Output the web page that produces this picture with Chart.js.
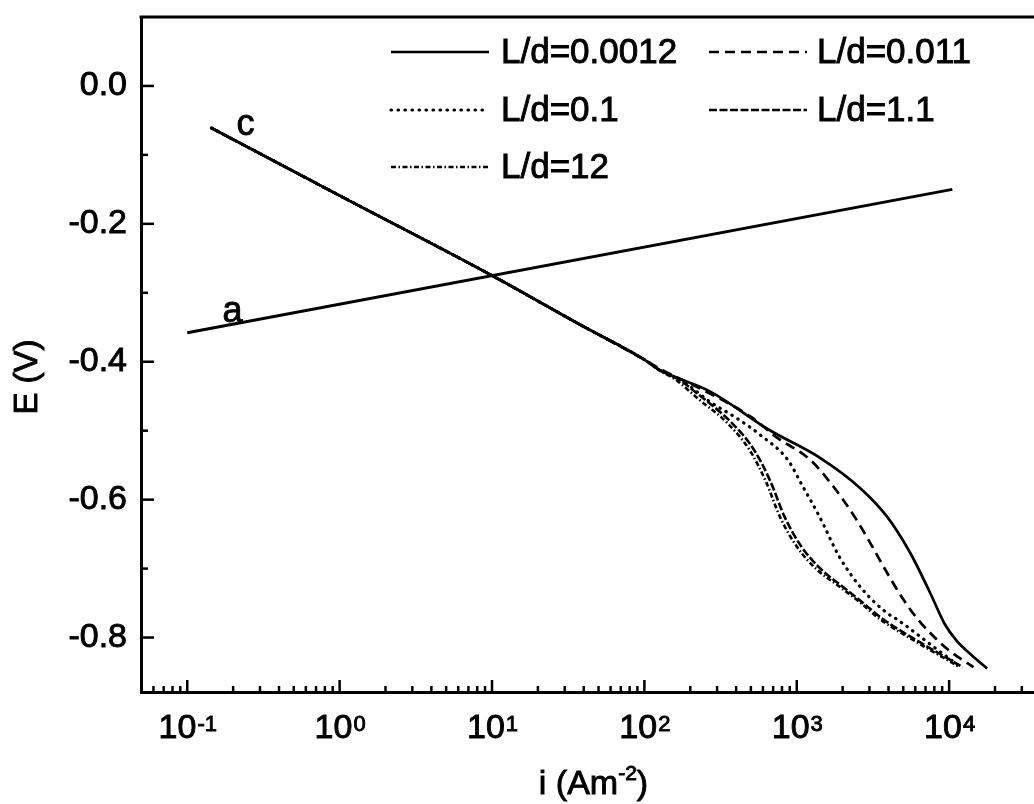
<!DOCTYPE html>
<html>
<head>
<meta charset="utf-8">
<script src="https://cdn.jsdelivr.net/npm/chart.js@4.4.1/dist/chart.umd.min.js"></script>
<style>
  html, body { margin: 0; padding: 0; background: #fff; overflow: hidden; }
  #wrap { width: 1034px; height: 804px; position: relative; }
</style>
</head>
<body>
<div id="wrap"><canvas id="chart"></canvas></div>
<script>
// cathodic branch c, shared by every L/d curve before they split
const commonI = [0.144, 1, 10, 37.7, 100];
const commonE = [-0.061, -0.159, -0.275, -0.346, -0.397];

// tails of the cathodic curves (current in A/m2, potential in V)
const iLd0012 = [126, 269, 661, 1413, 2600, 3890, 5546, 7499, 9333, 11220, 14130, 17780];
const eLd0012 = [-0.412, -0.443, -0.499, -0.539, -0.583, -0.624, -0.677, -0.735, -0.780, -0.805, -0.826, -0.845];

const iLd011 = [126, 269, 501, 741, 1222, 1738, 2399, 3020, 3890, 5012, 6310, 9772, 14450];
const eLd011 = [-0.410, -0.446, -0.480, -0.510, -0.542, -0.581, -0.625, -0.662, -0.705, -0.745, -0.775, -0.817, -0.843];

const iLd01 = [126, 178, 269, 398, 575, 871, 1096, 1413, 1905, 2692, 3890, 4571, 7852, 11750];
const eLd01 = [-0.412, -0.428, -0.458, -0.481, -0.506, -0.542, -0.581, -0.625, -0.683, -0.730, -0.764, -0.774, -0.813, -0.842];

const iLd11 = [126, 166, 240, 372, 525, 676, 832, 1072, 1445, 1995, 2692, 3715, 6457, 12300];
const eLd11 = [-0.412, -0.425, -0.452, -0.488, -0.528, -0.575, -0.625, -0.668, -0.701, -0.726, -0.749, -0.774, -0.807, -0.843];

const iLd12 = [126, 158, 229, 347, 490, 631, 776, 1000, 1349, 1905, 2600, 3548, 6166, 11750];
const eLd12 = [-0.413, -0.425, -0.455, -0.488, -0.528, -0.575, -0.625, -0.668, -0.701, -0.726, -0.749, -0.774, -0.807, -0.843];

// anodic branch a
const anodicI = [0.1, 10500];
const anodicE = [-0.358, -0.150];

const seriesLabels = ['L/d=0.0012', 'L/d=0.011', 'L/d=0.1', 'L/d=1.1', 'L/d=12'];

const xMajorTicks = [0.1, 1, 10, 100, 1000, 10000];
const xTickExponents = ['-1', '0', '1', '2', '3', '4'];
const xMinorTicks = [0.05, 0.06, 0.07, 0.08, 0.09];
[0.1, 1, 10, 100, 1000].forEach(d => { for (let m = 2; m <= 9; m++) xMinorTicks.push(m * d); });
xMinorTicks.push(20000, 30000);

const yMajorTicks = [0, -0.2, -0.4, -0.6, -0.8];
const yMinorTicks = [-0.1, -0.3, -0.5, -0.7];

const FONT = '"Liberation Sans", Arial, Helvetica, sans-serif';

function toPoints(iArr, eArr) {
  return iArr.map((v, k) => ({ x: v, y: eArr[k] }));
}

function cathodic(label, iTail, eTail, dash, width, cap) {
  return {
    label,
    data: toPoints(commonI, commonE).concat(toPoints(iTail, eTail)),
    borderColor: '#000',
    borderWidth: width,
    borderDash: dash,
    borderCapStyle: cap || 'butt',
    cubicInterpolationMode: 'monotone',
    pointRadius: 0,
    fill: false
  };
}

const datasets = [
  cathodic(seriesLabels[4], iLd12, eLd12, [5, 2.5, 1.5, 2.5], 2.6),
  cathodic(seriesLabels[3], iLd11, eLd11, [8, 2.5], 2.6),
  cathodic(seriesLabels[2], iLd01, eLd01, [0.5, 6.5], 3.2, 'round'),
  cathodic(seriesLabels[1], iLd011, eLd011, [10, 6], 2.7),
  cathodic(seriesLabels[0], iLd0012, eLd0012, [], 2.7),
  {
    label: 'a',
    data: toPoints(anodicI, anodicE),
    borderColor: '#000',
    borderWidth: 3,
    pointRadius: 0,
    fill: false
  }
];

// legend slots: [line start x, line y, text x]
const legendSlots = [[391, 52, 501], [709, 52, 817], [391, 110, 501], [709, 110, 817], [391, 167, 501]];

function heavyText(ctx, text, px, py) {
  ctx.fillText(text, px, py);
  ctx.strokeText(text, px, py);
}

const decorations = {
  id: 'decorations',
  afterDraw(chart) {
    const { ctx, chartArea: area, scales: { x, y } } = chart;
    ctx.save();
    ctx.strokeStyle = '#000';
    ctx.fillStyle = '#000';

    // top frame line
    ctx.lineWidth = 3;
    ctx.beginPath();
    ctx.moveTo(area.left - 1.5, area.top);
    ctx.lineTo(area.right, area.top);
    ctx.stroke();

    // inward ticks
    ctx.lineWidth = 2.5;
    x.ticks.forEach(t => {
      const px = x.getPixelForValue(t.value);
      const len = xMajorTicks.includes(t.value) ? 12 : 6;
      ctx.beginPath();
      ctx.moveTo(px, area.bottom);
      ctx.lineTo(px, area.bottom - len);
      ctx.stroke();
    });
    y.ticks.forEach(t => {
      const py = y.getPixelForValue(t.value);
      const len = yMajorTicks.includes(t.value) ? 13 : 7;
      ctx.beginPath();
      ctx.moveTo(area.left, py);
      ctx.lineTo(area.left + len, py);
      ctx.stroke();
    });

    ctx.lineWidth = 0.9;

    // x tick labels with superscript exponents
    ctx.textBaseline = 'alphabetic';
    ctx.textAlign = 'left';
    xMajorTicks.forEach((v, k) => {
      const px = x.getPixelForValue(v);
      ctx.font = `34px ${FONT}`;
      const wBase = ctx.measureText('10').width;
      ctx.font = `22px ${FONT}`;
      const wExp = ctx.measureText(xTickExponents[k]).width;
      const start = px - (wBase + wExp) / 2;
      ctx.font = `34px ${FONT}`;
      heavyText(ctx, '10', start, 738);
      ctx.font = `22px ${FONT}`;
      heavyText(ctx, xTickExponents[k], start + wBase + 1, 731);
    });

    // x axis title: i (Am-2)
    ctx.font = `34px ${FONT}`;
    const t1 = 'i (Am', t3 = ')';
    const w1 = ctx.measureText(t1).width, w3 = ctx.measureText(t3).width;
    ctx.font = `21px ${FONT}`;
    const w2 = ctx.measureText('-2').width;
    const sx = (area.left + area.right) / 2 + 6 - (w1 + w2 + w3) / 2;
    ctx.font = `34px ${FONT}`;
    heavyText(ctx, t1, sx, 794);
    ctx.font = `21px ${FONT}`;
    heavyText(ctx, '-2', sx + w1, 780);
    ctx.font = `34px ${FONT}`;
    heavyText(ctx, t3, sx + w1 + w2, 794);

    // y axis title
    ctx.save();
    ctx.translate(28, 377);
    ctx.rotate(-Math.PI / 2);
    ctx.textAlign = 'center';
    ctx.textBaseline = 'middle';
    ctx.font = `33px ${FONT}`;
    heavyText(ctx, 'E (V)', 0, 0);
    ctx.restore();

    // curve labels
    ctx.font = `36px ${FONT}`;
    ctx.textAlign = 'center';
    ctx.textBaseline = 'alphabetic';
    heavyText(ctx, 'c', x.getPixelForValue(0.2415), y.getPixelForValue(-0.0711));
    heavyText(ctx, 'a', x.getPixelForValue(0.198), y.getPixelForValue(-0.342));

    // legend
    ctx.textAlign = 'left';
    ctx.textBaseline = 'middle';
    seriesLabels.forEach((lab, k) => {
      const ds = chart.data.datasets.find(d => d.label === lab);
      const [lx, ly, tx] = legendSlots[k];
      ctx.save();
      ctx.lineWidth = ds.borderWidth;
      ctx.setLineDash(ds.borderDash);
      ctx.lineCap = ds.borderCapStyle;
      ctx.beginPath();
      ctx.moveTo(lx, ly);
      ctx.lineTo(lx + 98, ly);
      ctx.stroke();
      ctx.restore();
      ctx.font = `35px ${FONT}`;
      heavyText(ctx, lab, tx, ly + 1);
    });

    ctx.restore();
  }
};

new Chart(document.getElementById('chart').getContext('2d'), {
  type: 'line',
  data: { datasets },
  options: {
    responsive: true,
    maintainAspectRatio: false,
    animation: false,
    layout: { padding: { top: 17, right: 0, bottom: 0, left: 0 } },
    plugins: { legend: { display: false }, tooltip: { enabled: false } },
    scales: {
      x: {
        type: 'logarithmic',
        position: 'bottom',
        min: 0.0497,
        max: 36060,
        grid: { display: false, drawTicks: false },
        border: { display: true, color: '#000', width: 3 },
        ticks: { display: false },
        afterBuildTicks: s => { s.ticks = xMajorTicks.concat(xMinorTicks).map(v => ({ value: v })); },
        afterFit: s => { s.height = 112; s.paddingLeft = 0; s.paddingRight = 0; }
      },
      y: {
        type: 'linear',
        position: 'left',
        min: -0.879,
        max: 0.1,
        grid: { display: false, drawTicks: false },
        border: { display: true, color: '#000', width: 3 },
        ticks: {
          padding: 14,
          color: '#000',
          textStrokeColor: '#000',
          textStrokeWidth: 0.9,
          font: { family: FONT, size: 34 },
          callback: v => (yMajorTicks.includes(v) ? (v === 0 ? '0.0' : v.toFixed(1)) : '')
        },
        afterBuildTicks: s => { s.ticks = yMinorTicks.concat(yMajorTicks).map(v => ({ value: v })); },
        afterFit: s => { s.width = 141; s.paddingTop = 0; s.paddingBottom = 0; }
      }
    }
  },
  plugins: [decorations]
});
</script>
</body>
</html>
